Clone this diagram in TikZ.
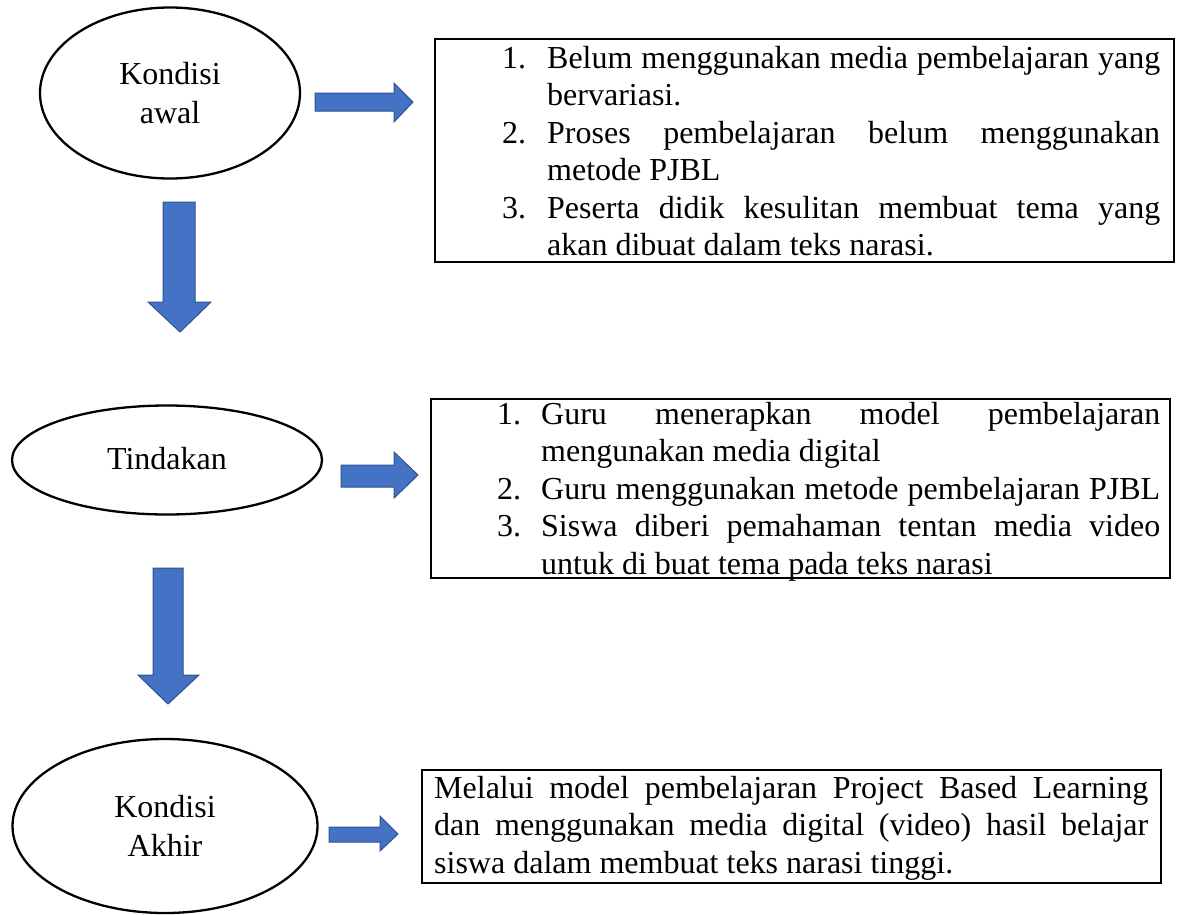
\documentclass[tikz,border=0pt]{standalone}
\usepackage{fontspec}
\setmainfont{Liberation Serif}
\usetikzlibrary{shapes.geometric}
\definecolor{arrowblue}{HTML}{4472C4}
\definecolor{arrowedge}{HTML}{2F528F}
\newcommand{\ovaltext}[2]{\raisebox{#1}{\parbox{130pt}{\centering #2}}}
\begin{document}
\begin{tikzpicture}[x=1pt,y=-1pt,
  oval/.style={draw, line width=2.3pt, ellipse, inner sep=0pt,
    font=\fontsize{32}{39}\selectfont},
  infobox/.style={draw, line width=2pt, rectangle, inner sep=0pt, anchor=north west},
  infotext/.style={inner sep=0pt, anchor=base west, font=\fontsize{32}{37.5}\selectfont},
  blockarrow/.style={fill=arrowblue, draw=arrowedge, line width=1pt, line join=miter}]
\useasboundingbox (0,0) rectangle (1179,914);

% ovals
\node[oval, minimum width=260pt, minimum height=171pt] (e1) at (170,93)
  {\ovaltext{7pt}{Kondisi\\awal}};
\node[oval, minimum width=310pt, minimum height=109pt] (e2) at (167,460)
  {\ovaltext{7pt}{Tindakan}};
\node[oval, minimum width=305pt, minimum height=174pt] (e3) at (165,826)
  {\ovaltext{9pt}{Kondisi\\Akhir}};

% boxes
\node[infobox, minimum width=739pt, minimum height=223pt] (b1) at (434,38) {};
\node[infobox, minimum width=739pt, minimum height=179pt] (b2) at (430,398) {};
\node[infobox, minimum width=739pt, minimum height=113pt] (b3) at (421,769) {};

\node[infotext] (t1) at (502,68) {\parbox[t]{658pt}{%
\makebox[45pt][l]{1.}\makebox[613pt][s]{Belum menggunakan media pembelajaran yang}\\
\hspace*{45pt}bervariasi.\\
\makebox[45pt][l]{2.}\makebox[613pt][s]{Proses pembelajaran belum menggunakan}\\
\hspace*{45pt}metode PJBL\\
\makebox[45pt][l]{3.}\makebox[613pt][s]{Peserta didik kesulitan membuat tema yang}\\
\hspace*{45pt}akan dibuat dalam teks narasi.}};

\node[infotext] (t2) at (497,424) {\parbox[t]{663pt}{%
\makebox[44pt][l]{1.}\makebox[619pt][s]{Guru menerapkan model pembelajaran}\\
\hspace*{44pt}mengunakan media digital\\
\makebox[44pt][l]{2.}\makebox[619pt][s]{Guru menggunakan metode pembelajaran PJBL}\\
\makebox[44pt][l]{3.}\makebox[619pt][s]{Siswa diberi pemahaman tentan media video}\\
\hspace*{44pt}untuk di buat tema pada teks narasi}};

\node[infotext] (t3) at (434,798) {\parbox[t]{714pt}{%
\makebox[714pt][s]{Melalui model pembelajaran Project Based Learning}\\
\makebox[714pt][s]{dan menggunakan media digital (video) hasil belajar}\\
siswa dalam membuat teks narasi tinggi.}};

% block arrows (right)
\draw[blockarrow] (315,93) -- (394,93) -- (394,83) -- (413,102) -- (394,122) -- (394,111) -- (315,111) -- cycle;
\draw[blockarrow] (341,465) -- (394,465) -- (394,452) -- (418,475) -- (394,498) -- (394,487) -- (341,487) -- cycle;
\draw[blockarrow] (329,827) -- (380,827) -- (380,816) -- (398,834) -- (380,851) -- (380,842) -- (329,842) -- cycle;

% block arrows (down)
\draw[blockarrow] (163,202) -- (195,202) -- (195,302) -- (211,302) -- (180,332) -- (148,302) -- (163,302) -- cycle;
\draw[blockarrow] (153,568) -- (183,568) -- (183,675) -- (199,675) -- (168,704) -- (138,675) -- (153,675) -- cycle;
\end{tikzpicture}
\end{document}
